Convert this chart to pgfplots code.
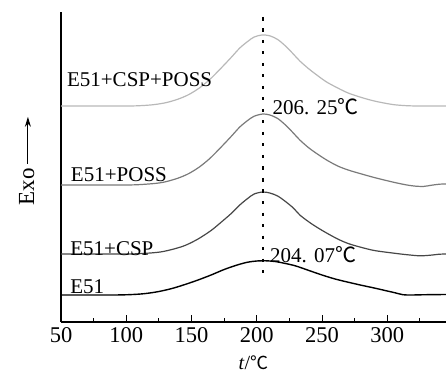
\documentclass[border=0pt]{standalone}
\usepackage{pgfplots}
\pgfplotsset{compat=1.18}
\usepackage{fontspec}
\setmainfont{Liberation Serif}
\newfontfamily\cjk{Noto Sans CJK SC}
\usetikzlibrary{arrows.meta}
\newcommand{\degc}{{\cjk ℃}}
\begin{document}
\begin{tikzpicture}
\begin{axis}[
  scale only axis, width=385pt, height=310pt,
  xmin=50, xmax=345, ymin=0, ymax=310,
  axis x line*=bottom, axis y line*=left,
  axis line style={line width=1.3pt},
  xtick={50,100,150,200,250,300},
  minor xtick={75,125,175,225,275,325},
  ytick=\empty,
  tick align=inside,
  major tick length=7pt, minor tick length=4pt,
  tick style={line width=1pt, black},
  /pgf/number format/assume math mode=true,
  ticklabel style={font=\fontsize{22.5}{24}\selectfont},
  xticklabel style={yshift=-2pt},
  xlabel={\fontsize{20}{22}\selectfont\textit{t}/{\cjk\fontsize{18}{20}\selectfont ℃}},
  xlabel style={at={(rel axis cs:0.5,0)}, anchor=base, inner sep=0pt, yshift=-47pt},
  ylabel={\fontsize{23}{25}\selectfont Exo\,\tikz[baseline=-0.6ex]\draw[-{Stealth[length=10pt,width=6pt]},line width=1pt](0,0)--(47pt,0);},
  ylabel style={at={(rel axis cs:0,0.52)}, anchor=south, yshift=23pt},
  clip=false,
  every axis plot/.append style={smooth, no markers},
]
% E51
\addplot[black, line width=1.4pt] coordinates {
(50,27) (90,27) (105,27.5) (115,28.5) (125,30.5) (135,33.5) (145,37.5) (155,42) (165,47) (175,52.5) (185,57) (193,59.8) (200,61) (207,61.2) (214,60.5) (222,58.5) (230,56) (240,51.5) (250,47) (260,43) (270,39.8) (280,36.8) (290,34) (300,31) (306,29.2) (312,27.3) (318,27) (330,27.3) (345,27.5)};
% E51+CSP
\addplot[black!72, line width=1.2pt] coordinates {
(50,68) (100,68) (115,68.7) (126,70) (135,72.5) (145,76.5) (155,83) (165,91.5) (172,99) (180,108) (187,117) (193,123.5) (198,128) (204.5,130) (210,129) (216,126) (222,120.5) (228,114) (233,107) (240,100) (247,94) (253.5,89) (262,83) (270,78.5) (279,75) (290,71.5) (304,69) (315,67.3) (325,66.2) (333,66.8) (340,67.8) (345,68)};
% E51+POSS
\addplot[black!52, line width=1.2pt] coordinates {
(50,137) (100,137) (115,137.8) (125,139) (131,140.5) (140,144) (148,148.5) (156,155) (164,163.5) (172,174) (180,185) (187,195) (193,201.5) (198,205.8) (204.7,208) (210,207) (216,203.5) (222,197) (228,189) (233,182) (240,174) (247,167.5) (253.5,162) (262,156) (270,152) (279,148.5) (290,144.5) (304,140) (315,137) (322,135.8) (328,135.6) (334,136.8) (340,137.8) (345,138)};
% E51+CSP+POSS
\addplot[black!28, line width=1.2pt] coordinates {
(50,216) (100,216) (113,216.5) (122,217.5) (131,219.5) (140,223) (148,227.5) (156,234) (164,242.5) (172,253) (180,264) (187,274) (193,280.5) (198,285) (204,287) (210,286.2) (216,282.5) (222,276) (228,268) (233,261) (240,253) (247,246) (253.5,240) (262,234) (270,229) (279,225) (290,221) (304,217.5) (315,216.3) (325,216) (345,216)};
% dotted peak line
\addplot[black, line width=2pt, dash pattern=on 3pt off 8.5pt, smooth=false] coordinates {(204.5,305) (204.5,49)};
\node[anchor=base west, inner sep=0pt, font=\fontsize{21}{23}\selectfont] at (axis cs:54.5,235) {E51+CSP+POSS};
\node[anchor=base west, inner sep=0pt, font=\fontsize{21}{23}\selectfont] at (axis cs:57.5,140) {E51+POSS};
\node[anchor=base west, inner sep=0pt, font=\fontsize{21}{23}\selectfont] at (axis cs:57,67) {E51+CSP};
\node[anchor=base west, inner sep=0pt, font=\fontsize{21}{23}\selectfont] at (axis cs:57,29) {E51};
\node[anchor=base west, inner sep=0pt, font=\fontsize{21}{23}\selectfont] at (axis cs:212,207) {206.\hspace{0.35em}25\degc};
\node[anchor=base west, inner sep=0pt, font=\fontsize{21}{23}\selectfont] at (axis cs:210,60) {204.\hspace{0.35em}07\degc};
\end{axis}
\pgfresetboundingbox
\path ([shift={(-61pt,-50pt)}]current axis.south west) rectangle ([shift={(0pt,12pt)}]current axis.north east);
\end{tikzpicture}
\end{document}
